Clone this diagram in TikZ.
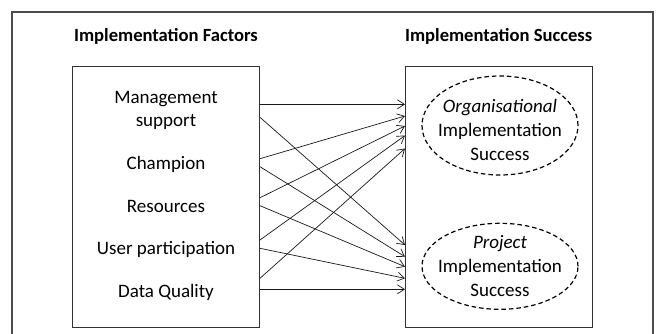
\documentclass[tikz,border=0pt]{standalone}
\usepackage{fontspec}
\setmainfont{Carlito}
\usetikzlibrary{arrows.meta,shapes.geometric}
\begin{document}
\begin{tikzpicture}[x=1pt,y=-1pt,
  every node/.style={font=\fontsize{19}{23}\selectfont, inner sep=0pt, align=center},
  heading/.style={font=\fontsize{18.6}{23}\selectfont\bfseries, anchor=base},
  factor/.style={anchor=base},
  outtext/.style={anchor=base, font=\fontsize{19}{24.2}\selectfont},
  panel/.style={draw=black!80, line width=0.9pt, minimum height=261.7pt},
  outcome/.style={ellipse, draw=black, line width=1.2pt, dash pattern=on 4.5pt off 3pt},
  link/.style={-{Straight Barb[length=7pt,width=9pt]}, line width=0.7pt, black!90}
]
\useasboundingbox (0,0) rectangle (657,333);

% outer frame (its bottom edge lies below the page)
\draw[black!70, line width=1.2pt] (12,340) -- (12,12) -- (653,12) -- (653,340);

% headings
\node[heading] (hf) at (166,41.7) {Implementation Factors};
\node[heading] (hs) at (498.7,41.7) {Implementation Success};

% the two panels
\node[panel, minimum width=186.8pt] (factors) at (166.1,196.85) {};
\node[panel, minimum width=187.5pt] (success) at (498.75,196.85) {};

% factors (base = baseline of the last line)
\node[factor] (mgmt) at (166,126) {Management\\support};
\node[factor] (champ) at (166,169.3) {Champion};
\node[factor] (res) at (166,212) {Resources};
\node[factor] (user) at (166,254.5) {User participation};
\node[factor] (dq) at (166,297) {Data Quality};

% outcomes
\node[outcome, minimum width=156pt, minimum height=99pt] (org) at (500,125.5) {};
\node[outtext] (orgtxt) at (500,160.7) {\textit{Organisational}\\Implementation\\Success};
\node[outcome, minimum width=156pt, minimum height=86pt] (proj) at (500,266.3) {};
\node[outtext] (projtxt) at (500,296.7) {\textit{Project}\\Implementation\\Success};

% connector ends on the panel edges
\coordinate (m1) at (260,104.3);  \coordinate (m2) at (260,117.3);
\coordinate (c1) at (260,158.7);  \coordinate (c2) at (260,166.7);
\coordinate (r1) at (260,197.7);  \coordinate (r2) at (260,205.7);
\coordinate (u1) at (260,240);    \coordinate (u2) at (260,248.3);
\coordinate (d1) at (260,278.3);  \coordinate (d2) at (260,289.3);

\coordinate (o1) at (405,104.3);  \coordinate (p1) at (405,245);
\coordinate (o2) at (405,116);    \coordinate (p2) at (405,256.7);
\coordinate (o3) at (405,126);    \coordinate (p3) at (405,266.7);
\coordinate (o4) at (405,135.5);  \coordinate (p4) at (405,278.3);
\coordinate (o5) at (405,148.5);  \coordinate (p5) at (405,289.3);

% every factor feeds both outcomes
\draw[link] (m1) -- (o1);
\draw[link] (c1) -- (o2);
\draw[link] (r1) -- (o3);
\draw[link] (u1) -- (o4);
\draw[link] (d1) -- (o5);
\draw[link] (m2) -- (p1);
\draw[link] (c2) -- (p2);
\draw[link] (r2) -- (p3);
\draw[link] (u2) -- (p4);
\draw[link] (d2) -- (p5);
\end{tikzpicture}
\end{document}
